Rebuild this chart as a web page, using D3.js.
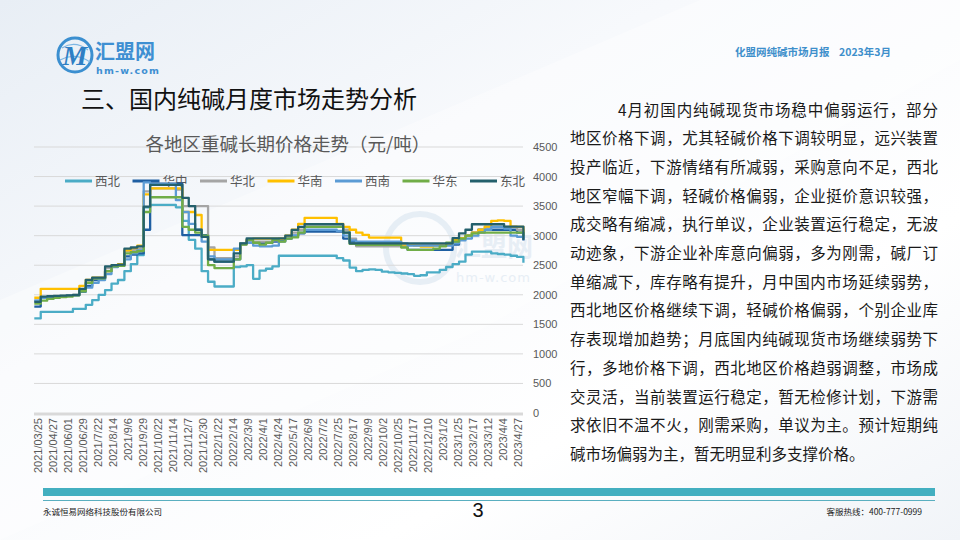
<!DOCTYPE html>
<html><head><meta charset="utf-8">
<script src="https://cdn.jsdelivr.net/npm/d3@7/dist/d3.min.js"></script>
<style>
html,body{margin:0;padding:0;background:#fff;}
svg{display:block;font-family:"Noto Sans CJK SC","Noto Sans",sans-serif;}
</style></head>
<body>
<svg id="c" width="960" height="540"></svg>
<script>
// ---------------- data ----------------
const seriesNames = ["西北","华中","华北","华南","西南","华东","东北"];
const sampleStep = 10; // days between samples (sample k = day k*10)
const xibei  = [1600,1710,1710,1710,1710,1710,1760,1760,1830,1910, 2000,2080,2190,2250,2400,2520,2670,3480,3520,3520, 3520,3520,3480,3250,2930,2780,2400,2220,2140,2140, 2140,2470,2480,2500,2270,2410,2440,2480,2660,2660, 2660,2660,2660,2660,2660,2660,2660,2620,2580,2460, 2400,2420,2430,2420,2390,2380,2370,2360,2350,2320, 2330,2380,2380,2420,2470,2520,2560,2680,2730,2730, 2730,2700,2690,2680,2660,2640,2540];
const huazhong = [1800,1950,1960,1960,1970,1980,1990,2050,2150,2250, 2270,2400,2480,2490,2650,2680,2700,3100,3880,3880, 3880,3880,3880,3010,3010,3010,3010,2600,2560,2560, 2560,2600,2870,2900,2880,2880,2880,2900,2920,2950, 3000,3040,3070,3070,3070,3070,3070,3070,2950,2900, 2880,2870,2870,2870,2870,2870,2870,2850,2760,2760, 2760,2760,2760,2760,2760,2850,2950,3000,3050,3100, 3100,3100,3100,3100,3100,3050,2920];
const huabei = [1900,1960,1960,1970,1980,1990,2000,2080,2200,2280, 2280,2450,2490,2500,2740,2760,2780,3750,3800,3800, 3800,3800,3780,3500,3500,3500,3500,2800,2620,2620, 2620,2650,2850,2900,2900,2900,2900,2920,2950,2950, 3050,3100,3150,3150,3150,3150,3150,3150,3100,2950, 2820,2820,2820,2820,2820,2820,2820,2820,2840,2850, 2850,2850,2850,2850,2850,2900,2950,3000,3050,3080, 3150,3150,3150,3150,3150,3100,3000];
const huanan = [1950,2100,2100,2100,2100,2100,2100,2150,2250,2290, 2290,2400,2500,2520,2750,2790,2830,3700,3800,3800, 3800,3800,3800,3400,3400,3350,2980,2760,2760,2760, 2760,2760,2870,2930,2950,2950,2950,2950,2950,3000, 3100,3200,3300,3300,3300,3300,3300,3200,3150,3100, 3050,3013,2967,2967,2967,2967,2967,2850,2843,2830, 2815,2815,2830,2843,2850,2930,2960,3000,3050,3100, 3154,3250,3260,3250,3154,3150,3050];
const xinan = [1900,1950,1960,1970,1975,1985,1995,2060,2120,2200, 2250,2350,2470,2500,2600,2700,2750,3900,3870,3870, 3870,3870,3600,3400,3200,3100,2900,2650,2600,2600, 2600,2780,2870,2880,2830,2820,2820,2830,2900,2950, 3000,3050,3100,3100,3100,3100,3100,3080,3000,2920, 2900,2900,2900,2900,2900,2900,2900,2870,2830,2830, 2830,2830,2830,2830,2830,2870,2920,2950,3000,3050, 3100,3150,3150,3120,3000,2980,2950];
const huadong = [1850,1900,1930,1950,1960,1970,1990,2060,2200,2280, 2280,2400,2480,2490,2700,2720,2740,3400,3650,3650, 3650,3650,3650,3150,3100,3050,3000,2500,2450,2450, 2450,2600,2850,2930,2880,2850,2880,2930,2900,2950, 2970,3050,3150,3150,3150,3150,3150,3150,3050,2860, 2843,2843,2843,2843,2843,2843,2843,2800,2760,2760, 2760,2760,2780,2820,2880,2900,2950,3000,3040,3050, 3050,3050,3050,3050,3050,3050,3000];
const dongbei = [1880,1970,1975,1980,1985,1990,2000,2100,2250,2290, 2290,2480,2500,2510,2780,2800,2820,3490,3860,3860, 3860,3860,3860,3640,3500,3100,2980,2600,2560,2560, 2560,2700,2870,2955,2955,2955,2955,2955,2955,3000, 3097,3150,3193,3193,3193,3193,3193,3193,3050,2870, 2870,2870,2870,2870,2870,2870,2870,2870,2870,2870, 2870,2870,2870,2870,2870,2960,3040,3100,3193,3193, 3193,3193,3193,3154,3154,3154,2930];
const seriesValues = [xibei, huazhong, huabei, huanan, xinan, huadong, dongbei];
const seriesColors = ["#4BACC6","#1F5FA2","#A5A5A5","#FFC000","#5B9BD5","#70AD47","#24606C"];
const tickLabels = ["2021/03/25","2021/04/27","2021/06/01","2021/06/29","2021/7/22","2021/8/14","2021/9/6","2021/9/29","2021/10/22","2021/11/14","2021/12/7","2021/12/30","2022/1/22","2022/2/14","2022/3/9","2022/4/1","2022/4/24","2022/5/17","2022/6/9","2022/7/2","2022/7/25","2022/8/17","2022/9/9","2022/10/2","2022/10/25","2022/11/17","2022/12/10","2023/1/2","2023/1/25","2023/2/17","2023/3/12","2023/4/4","2023/4/27"];
const yTicks = [0,500,1000,1500,2000,2500,3000,3500,4000,4500];
const bodyLines = [
 "4月初国内纯碱现货市场稳中偏弱运行，部分",
 "地区价格下调，尤其轻碱价格下调较明显，远兴装置",
 "投产临近，下游情绪有所减弱，采购意向不足，西北",
 "地区窄幅下调，轻碱价格偏弱，企业挺价意识较强，",
 "成交略有缩减，执行单议，企业装置运行稳定，无波",
 "动迹象，下游企业补库意向偏弱，多为刚需，碱厂订",
 "单缩减下，库存略有提升，月中国内市场延续弱势，",
 "西北地区价格继续下调，轻碱价格偏弱，个别企业库",
 "存表现增加趋势；月底国内纯碱现货市场继续弱势下",
 "行，多地价格下调，西北地区价格趋弱调整，市场成",
 "交灵活，当前装置运行稳定，暂无检修计划，下游需",
 "求依旧不温不火，刚需采购，单议为主。预计短期纯",
 "碱市场偏弱为主，暂无明显利多支撑价格。"
];

// ---------------- drawing ----------------
const svg = d3.select("#c");
const defs = svg.append("defs");
const bg = defs.append("linearGradient").attr("id","bg").attr("x1","0").attr("y1","0").attr("x2","1").attr("y2","1");
bg.append("stop").attr("offset","0").attr("stop-color","#E8EEF5");
bg.append("stop").attr("offset","0.35").attr("stop-color","#F7F9FC");
bg.append("stop").attr("offset","0.7").attr("stop-color","#FFFFFF");
bg.append("stop").attr("offset","1").attr("stop-color","#F1F4F8");
svg.append("rect").attr("width",960).attr("height",540).attr("fill","url(#bg)");
svg.append("path").attr("d","M0,300 L420,120 L700,0 L960,0 L960,60 L480,330 L0,540 Z").attr("fill","#FFFFFF").attr("opacity",0.35);

// logo
const logo = svg.append("g");
logo.append("circle").attr("cx",75).attr("cy",55).attr("r",17).attr("fill","none").attr("stroke","#3B8FD0").attr("stroke-width",3);
logo.append("path").attr("d","M62,48 Q75,40 88,50 M60,60 Q75,52 90,62").attr("fill","none").attr("stroke","#7DB6E3").attr("stroke-width",1.2);
logo.append("text").attr("x",75).attr("y",65).attr("text-anchor","middle").attr("font-size",28).attr("font-style","italic").attr("font-weight","bold").attr("fill","#2F7FC4").attr("font-family","Liberation Serif, serif").text("M");
logo.append("text").attr("x",95).attr("y",59).attr("font-size",20).attr("font-weight","bold").attr("fill","#3E8FD2").text("汇盟网");
logo.append("text").attr("x",96).attr("y",74).attr("font-size",9.5).attr("font-weight","bold").attr("fill","#3E8FD2").attr("letter-spacing",1.2).attr("font-family","DejaVu Sans, sans-serif").text("hm-w.com");

// header
svg.append("text").attr("x",735).attr("y",56).attr("font-size",10.5).attr("font-weight","bold").attr("fill","#3E8FCB").text("化盟网纯碱市场月报\u00A0\u00A0\u00A0\u00A02023年3月");
svg.append("text").attr("x",81).attr("y",108).attr("font-size",24).attr("fill","#111").text("三、国内纯碱月度市场走势分析");

// watermark (faint)
const wm = svg.append("g").attr("opacity",0.5);
wm.append("circle").attr("cx",420).attr("cy",248).attr("r",34).attr("fill","none").attr("stroke","#D3E1EE").attr("stroke-width",6);
wm.append("text").attr("x",455).attr("y",256).attr("font-size",26).attr("font-weight","bold").attr("fill","#D3E1EE").text("汇盟网");
wm.append("text").attr("x",456).attr("y",282).attr("font-size",13).attr("fill","#D3E1EE").attr("letter-spacing",1).attr("font-family","DejaVu Sans, sans-serif").text("hm-w.com");

// chart scales
const x = d3.scaleLinear().domain([0, (xibei.length-1)*sampleStep]).range([34.3, 523.4]);
const y = d3.scaleLinear().domain([0,4500]).range([413,147]);

const chart = svg.append("g");
chart.selectAll("line.grid").data(yTicks.filter(v=>v>0)).join("line")
  .attr("x1",34).attr("x2",523).attr("y1",d=>y(d)).attr("y2",d=>y(d))
  .attr("stroke","#D9D9D9").attr("stroke-width",1);
chart.append("line").attr("x1",34).attr("x2",523).attr("y1",y(0)+1).attr("y2",y(0)+1).attr("stroke","#D9D9D9").attr("stroke-width",3);

chart.selectAll("text.yt").data(yTicks).join("text")
  .attr("x",533).attr("y",d=>y(d)+4).attr("font-size",11).attr("fill","#595959")
  .attr("font-family","Liberation Sans, Arial, sans-serif").text(d=>d);

// x tick labels (one every 23 days)
const tickDay = j => 5.8 + j*23.3;
chart.selectAll("text.xt").data(tickLabels).join("text")
  .attr("transform",(d,j)=>`translate(${x(tickDay(j))+4},418) rotate(-90)`)
  .attr("text-anchor","end").attr("font-size",11).attr("fill","#595959")
  .attr("font-family","Liberation Sans, Arial, sans-serif").text(d=>d);

// chart title
chart.append("text").attr("x",288).attr("y",151).attr("text-anchor","middle").attr("font-size",18.5).attr("fill","#595959").text("各地区重碱长期价格走势（元/吨）");

// legend
const leg = chart.selectAll("g.leg").data(seriesNames).join("g").attr("transform",(d,i)=>`translate(${65+i*67.5},181)`);
leg.append("line").attr("x1",0).attr("x2",27).attr("stroke",(d,i)=>seriesColors[i]).attr("stroke-width",3);
leg.append("text").attr("x",30).attr("y",4.5).attr("font-size",12.5).attr("fill","#595959").text(d=>d);

// lines
const line = d3.line().x((d,i)=>x(i*sampleStep)).y(d=>y(d)).curve(d3.curveStepAfter);
chart.selectAll("path.s").data(seriesValues).join("path")
  .attr("d",line).attr("fill","none").attr("stroke",(d,i)=>seriesColors[i])
  .attr("stroke-width",2.3).attr("stroke-linejoin","round");

// body text
const body = svg.append("g").attr("font-size",15.5).attr("fill","#1a1a1a");
body.selectAll("text").data(bodyLines).join("text")
  .attr("x",(d,i)=>i===0?618:570).attr("y",(d,i)=>115.5+i*28.7)
  .each(function(d,i){ if(i<bodyLines.length-1){ d3.select(this).attr("textLength", i===0?320:368).attr("lengthAdjust","spacing"); } })
  .text(d=>d);

// footer
svg.append("rect").attr("x",43).attr("y",488).attr("width",892).attr("height",8).attr("fill","#43AFC0");
svg.append("line").attr("x1",43).attr("x2",935).attr("y1",500.5).attr("y2",500.5).attr("stroke","#5AAFC0").attr("stroke-width",1);
svg.append("text").attr("x",43).attr("y",515).attr("font-size",8.5).attr("fill","#222").text("永诚恒易网络科技股份有限公司");
svg.append("text").attr("x",478).attr("y",517).attr("text-anchor","middle").attr("font-size",20).attr("fill","#111").attr("font-family","Liberation Sans Narrow, Liberation Sans, sans-serif").text("3");
svg.append("text").attr("x",922).attr("y",515).attr("text-anchor","end").attr("font-size",8.5).attr("fill","#222").text("客服热线：400-777-0999");
</script>
</body></html>
